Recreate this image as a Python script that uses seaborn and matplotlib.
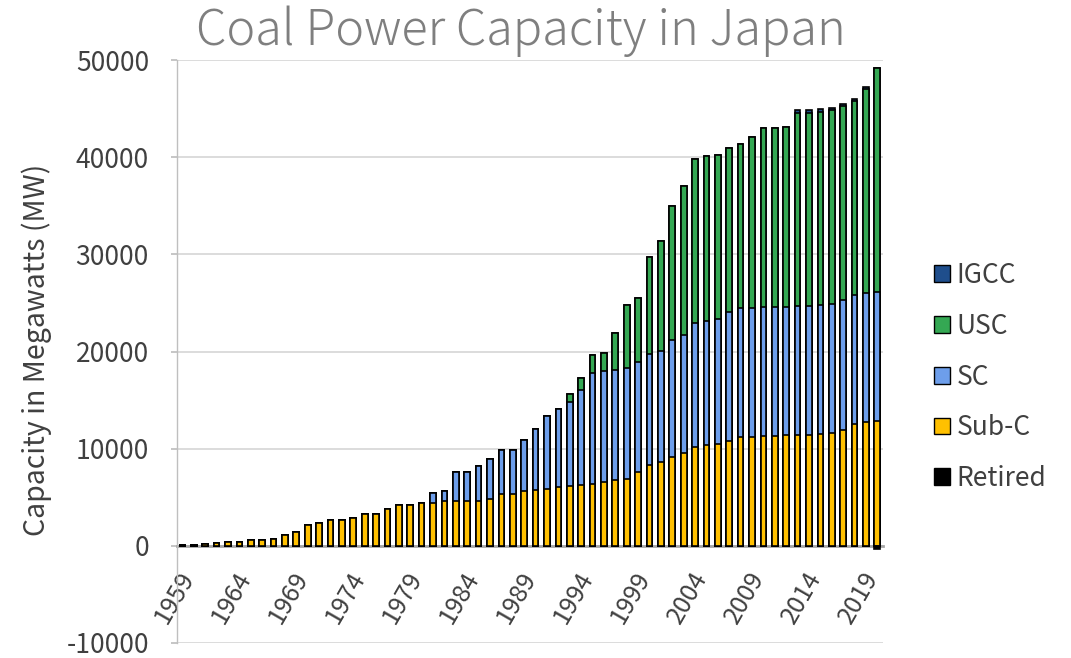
import numpy as np
import pandas as pd
import seaborn as sns
import matplotlib.pyplot as plt
from matplotlib.patches import Patch
from matplotlib.transforms import ScaledTranslation

# capacity in MW, 1959-2020
years = list(range(1959, 2021))
sub_c = [100, 100, 150, 270, 400, 400, 550, 550, 720, 1160,
         1400, 2150, 2350, 2630, 2700, 2900, 3280, 3280, 3750, 4160,
         4160, 4440, 4420, 4660, 4660, 4660, 4660, 4860, 5310, 5370,
         5610, 5780, 5880, 6020, 6120, 6290, 6390, 6600, 6730, 6870,
         7550, 8320, 8600, 9100, 9590, 10140, 10340, 10510, 10750, 11160,
         11160, 11290, 11290, 11360, 11360, 11360, 11460, 11600, 11970, 12550,
         12790, 12860]
sc = [0] * 22 + [1000, 1020, 2930, 2930, 3540, 4050, 4590, 4530,
                 5310, 6260, 7450, 8100, 8710, 9700, 11430, 11430, 11370, 11400,
                 11400, 11380, 11420, 12100, 12110, 12790, 12820, 12790, 13330, 13360,
                 13360, 13340, 13340, 13270, 13330, 13330, 13300, 13330, 13300, 13270,
                 13260, 13300]
usc = [0] * 34 + [750, 1320, 1840, 1830, 3840, 6530,
                  6530, 10030, 11370, 13770, 15370, 16930, 16910, 16900, 16870, 16870,
                  17520, 18400, 18400, 18470, 19900, 19900, 19900, 19900, 19970, 19960,
                  20960, 22990]
igcc = [0] * 54 + [250, 250, 250, 250, 250, 250, 250, 0]
retired = [np.nan] * 61 + [-300]

colors = {"IGCC": "#1f4e8c", "USC": "#34a853", "SC": "#6d9eeb",
          "Sub-C": "#ffc000", "Retired": "#000000"}

df = pd.DataFrame({"Year": [str(y) for y in years], "Sub-C": sub_c, "SC": sc,
                   "USC": usc, "IGCC": igcc, "Retired": retired})
# cumulative tops so the layers can be drawn over each other
df["top_subc"] = df["Sub-C"]
df["top_sc"] = df["top_subc"] + df["SC"]
df["top_usc"] = df["top_sc"] + df["USC"]
df["top_igcc"] = df["top_usc"] + df["IGCC"]

sns.set_theme(style="white")
plt.rcParams["font.family"] = ["Noto Sans CJK JP", "DejaVu Sans"]
plt.rcParams["axes.unicode_minus"] = False

fig = plt.figure(figsize=(10.71, 6.58), dpi=100)
ax = fig.add_axes([0.165, 0.0228, 0.6595, 0.886])

order = df["Year"].tolist()
for col, name in [("top_igcc", "IGCC"), ("top_usc", "USC"), ("top_sc", "SC"),
                  ("top_subc", "Sub-C"), ("Retired", "Retired")]:
    sns.barplot(data=df, x="Year", y=col, order=order, color=colors[name],
                saturation=1, width=0.5, edgecolor="black", linewidth=1.2,
                errorbar=None, ax=ax, zorder=3)

# spine position first, it resets the ticks
for s in ["top", "right"]:
    ax.spines[s].set_visible(False)
ax.spines["bottom"].set_position(("data", 0))
ax.spines["bottom"].set_color("#a6a6a6")
ax.spines["bottom"].set_linewidth(2)
ax.spines["bottom"].set_zorder(2)
ax.spines["left"].set_color("#bfbfbf")
ax.spines["left"].set_linewidth(1)

ax.set_xlim(-0.5, len(years) - 0.5)
ax.set_ylim(-10000, 50000)
ax.set_yticks(range(-10000, 50001, 10000))
ax.yaxis.grid(True, color="#d9d9d9", linewidth=1.3, zorder=0)
ax.set_axisbelow(True)

ax.set_xticks(range(0, len(years), 5))
ax.set_xticklabels(order[::5])
ax.tick_params(axis="x", length=0, pad=15)
ax.tick_params(axis="y", length=4, color="#bfbfbf", labelsize=19,
               labelcolor="#404040", left=True, pad=16)
shift = ScaledTranslation(-0.05, 0, fig.dpi_scale_trans)
for lab in ax.get_xticklabels():
    lab.set_rotation(60)
    lab.set_rotation_mode("anchor")
    lab.set_ha("right")
    lab.set_va("top")
    lab.set_fontsize(18)
    lab.set_color("#404040")
    lab.set_transform(lab.get_transform() + shift)

ax.set_xlabel("")
ax.set_ylabel("Capacity in Megawatts (MW)", fontsize=20.5, color="#404040")
ax.yaxis.set_label_coords(-0.177, 0.503)

fig.text(0.486, 0.952, "Coal Power Capacity in Japan", ha="center",
         va="center", fontsize=35, color="#7f7f7f", fontweight="light")

handles = [Patch(facecolor=colors[n], edgecolor="black", label=n)
           for n in ["IGCC", "USC", "SC", "Sub-C", "Retired"]]
fig.legend(handles=handles, loc="center left", bbox_to_anchor=(0.85, 0.427),
           frameon=False, fontsize=19, handlelength=0.6, handleheight=0.6,
           handletextpad=0.25, labelspacing=0.9, labelcolor="#404040")

fig.savefig("out.png", dpi=100)
